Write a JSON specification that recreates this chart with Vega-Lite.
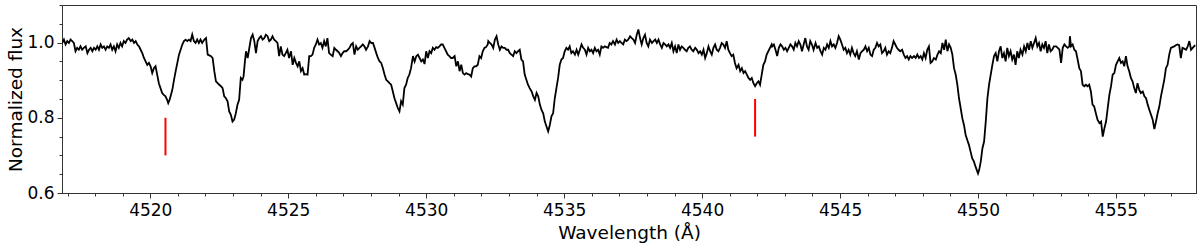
{
"$schema":"https://vega.github.io/schema/vega-lite/v6.json",
"width":1134,"height":188,
"autosize":{"type":"none"},
"padding":{"left":62,"top":5,"right":4,"bottom":54},
"background":"white",
"config":{"view":{"stroke":"#333","strokeWidth":1},"font":"DejaVu Sans"},
"resolve":{"axis":{"x":"independent","y":"independent"}},
"datasets":{
"spec":[
{"w":4516.81,"f":0.999},{"w":4516.87,"f":1.008},{"w":4516.93,"f":0.995},{"w":4516.99,"f":1.004},{"w":4517.05,"f":0.999},{"w":4517.11,"f":1.008},{"w":4517.17,"f":1.004},{"w":4517.23,"f":0.999},{"w":4517.29,"f":0.977},{"w":4517.35,"f":0.986},{"w":4517.41,"f":0.981},{"w":4517.47,"f":0.990},{"w":4517.53,"f":0.981},{"w":4517.59,"f":0.986},{"w":4517.66,"f":0.990},{"w":4517.72,"f":0.972},{"w":4517.78,"f":0.981},{"w":4517.84,"f":0.986},{"w":4517.90,"f":0.977},{"w":4517.96,"f":0.986},{"w":4518.02,"f":0.981},{"w":4518.08,"f":0.990},{"w":4518.14,"f":0.981},{"w":4518.20,"f":0.995},{"w":4518.26,"f":0.986},{"w":4518.32,"f":0.990},{"w":4518.38,"f":0.981},{"w":4518.44,"f":0.990},{"w":4518.50,"f":0.986},{"w":4518.56,"f":0.995},{"w":4518.62,"f":0.981},{"w":4518.68,"f":0.990},{"w":4518.74,"f":0.977},{"w":4518.80,"f":0.995},{"w":4518.86,"f":0.986},{"w":4518.92,"f":0.999},{"w":4518.98,"f":0.990},{"w":4519.04,"f":1.004},{"w":4519.10,"f":0.999},{"w":4519.16,"f":1.008},{"w":4519.22,"f":1.012},{"w":4519.29,"f":1.004},{"w":4519.35,"f":1.008},{"w":4519.41,"f":0.999},{"w":4519.47,"f":1.004},{"w":4519.53,"f":0.995},{"w":4519.59,"f":0.990},{"w":4519.65,"f":0.981},{"w":4519.71,"f":0.972},{"w":4519.77,"f":0.959},{"w":4519.83,"f":0.950},{"w":4519.89,"f":0.941},{"w":4519.95,"f":0.946},{"w":4520.01,"f":0.937},{"w":4520.07,"f":0.919},{"w":4520.13,"f":0.932},{"w":4520.19,"f":0.937},{"w":4520.25,"f":0.915},{"w":4520.31,"f":0.892},{"w":4520.37,"f":0.879},{"w":4520.43,"f":0.866},{"w":4520.49,"f":0.861},{"w":4520.55,"f":0.857},{"w":4520.61,"f":0.848},{"w":4520.65,"f":0.839},{"w":4520.70,"f":0.848},{"w":4520.75,"f":0.861},{"w":4520.80,"f":0.875},{"w":4520.86,"f":0.901},{"w":4520.92,"f":0.924},{"w":4520.98,"f":0.946},{"w":4521.04,"f":0.968},{"w":4521.10,"f":0.981},{"w":4521.16,"f":0.995},{"w":4521.22,"f":1.004},{"w":4521.28,"f":1.008},{"w":4521.34,"f":1.004},{"w":4521.40,"f":1.008},{"w":4521.46,"f":1.004},{"w":4521.52,"f":1.021},{"w":4521.58,"f":1.004},{"w":4521.64,"f":0.999},{"w":4521.70,"f":1.008},{"w":4521.76,"f":0.999},{"w":4521.82,"f":1.008},{"w":4521.88,"f":0.999},
{"w":4521.96,"f":1.008},{"w":4522.02,"f":1.012},{"w":4522.08,"f":0.968},{"w":4522.14,"f":0.966},{"w":4522.20,"f":0.964},{"w":4522.26,"f":0.959},{"w":4522.32,"f":0.924},{"w":4522.38,"f":0.897},{"w":4522.44,"f":0.892},{"w":4522.50,"f":0.888},{"w":4522.56,"f":0.884},{"w":4522.62,"f":0.879},{"w":4522.68,"f":0.857},{"w":4522.74,"f":0.852},{"w":4522.80,"f":0.844},{"w":4522.86,"f":0.817},{"w":4522.92,"f":0.808},{"w":4522.98,"f":0.790},{"w":4523.04,"f":0.795},{"w":4523.10,"f":0.812},{"w":4523.16,"f":0.835},{"w":4523.22,"f":0.848},{"w":4523.28,"f":0.906},{"w":4523.34,"f":0.901},{"w":4523.38,"f":0.910},{"w":4523.43,"f":0.950},{"w":4523.47,"f":0.977},{"w":4523.53,"f":0.959},{"w":4523.59,"f":0.986},{"w":4523.65,"f":1.012},{"w":4523.71,"f":1.021},{"w":4523.77,"f":1.004},{"w":4523.83,"f":0.972},{"w":4523.89,"f":1.004},{"w":4523.95,"f":1.012},{"w":4524.01,"f":1.017},{"w":4524.07,"f":1.008},{"w":4524.13,"f":1.012},{"w":4524.19,"f":1.021},{"w":4524.25,"f":1.017},{"w":4524.31,"f":1.004},{"w":4524.37,"f":1.008},{"w":4524.43,"f":1.017},{"w":4524.49,"f":1.008},{"w":4524.55,"f":1.004},{"w":4524.61,"f":0.999},{"w":4524.67,"f":0.964},{"w":4524.73,"f":0.990},{"w":4524.79,"f":0.968},{"w":4524.85,"f":0.964},{"w":4524.91,"f":0.972},{"w":4524.97,"f":0.981},{"w":4525.03,"f":0.959},{"w":4525.10,"f":0.977},{"w":4525.16,"f":0.941},{"w":4525.22,"f":0.959},{"w":4525.28,"f":0.946},{"w":4525.34,"f":0.937},{"w":4525.40,"f":0.950},{"w":4525.46,"f":0.924},{"w":4525.52,"f":0.932},{"w":4525.58,"f":0.915},{"w":4525.64,"f":0.916},{"w":4525.70,"f":0.915},{"w":4525.76,"f":0.964},{"w":4525.82,"f":0.964},{"w":4525.88,"f":0.968},{"w":4525.94,"f":0.986},{"w":4526.00,"f":0.995},{"w":4526.06,"f":1.008},{"w":4526.12,"f":0.995},{"w":4526.18,"f":0.999},{"w":4526.24,"f":0.986},{"w":4526.30,"f":1.004},{"w":4526.36,"f":0.990},{"w":4526.42,"f":1.012},{"w":4526.48,"f":0.972},{"w":4526.54,"f":0.968},{"w":4526.61,"f":0.964},{"w":4526.67,"f":0.986},{"w":4526.73,"f":0.981},{"w":4526.79,"f":0.977},{"w":4526.85,"f":0.972},{"w":4526.91,"f":0.964},{"w":4526.97,"f":0.972},{"w":4527.03,"f":0.977},
{"w":4527.10,"f":0.977},{"w":4527.16,"f":0.981},{"w":4527.22,"f":0.986},{"w":4527.28,"f":0.995},{"w":4527.34,"f":0.999},{"w":4527.40,"f":0.968},{"w":4527.46,"f":0.990},{"w":4527.52,"f":0.981},{"w":4527.58,"f":0.986},{"w":4527.64,"f":0.990},{"w":4527.70,"f":0.995},{"w":4527.76,"f":0.990},{"w":4527.82,"f":0.981},{"w":4527.89,"f":0.990},{"w":4527.95,"f":1.004},{"w":4528.01,"f":0.999},{"w":4528.07,"f":0.999},{"w":4528.13,"f":0.986},{"w":4528.19,"f":0.972},{"w":4528.25,"f":0.959},{"w":4528.31,"f":0.950},{"w":4528.37,"f":0.946},{"w":4528.43,"f":0.932},{"w":4528.49,"f":0.915},{"w":4528.55,"f":0.901},{"w":4528.61,"f":0.897},{"w":4528.67,"f":0.892},{"w":4528.73,"f":0.888},{"w":4528.79,"f":0.870},{"w":4528.85,"f":0.852},{"w":4528.91,"f":0.839},{"w":4528.97,"f":0.826},{"w":4529.03,"f":0.817},{"w":4529.09,"f":0.844},{"w":4529.15,"f":0.835},{"w":4529.21,"f":0.879},{"w":4529.27,"f":0.888},{"w":4529.33,"f":0.906},{"w":4529.39,"f":0.915},{"w":4529.45,"f":0.932},{"w":4529.52,"f":0.964},{"w":4529.58,"f":0.950},{"w":4529.64,"f":0.964},{"w":4529.70,"f":0.968},{"w":4529.76,"f":0.959},{"w":4529.82,"f":0.950},{"w":4529.88,"f":0.955},{"w":4529.94,"f":0.943},{"w":4530.00,"f":0.977},{"w":4530.06,"f":0.959},{"w":4530.12,"f":0.977},{"w":4530.18,"f":0.972},{"w":4530.24,"f":0.986},{"w":4530.30,"f":0.981},{"w":4530.36,"f":0.988},{"w":4530.42,"f":0.986},{"w":4530.48,"f":0.990},{"w":4530.54,"f":0.995},{"w":4530.60,"f":0.995},{"w":4530.66,"f":0.986},{"w":4530.72,"f":0.977},{"w":4530.78,"f":0.968},{"w":4530.84,"f":0.964},{"w":4530.90,"f":0.959},{"w":4530.96,"f":0.959},{"w":4531.03,"f":0.964},{"w":4531.09,"f":0.937},{"w":4531.15,"f":0.950},{"w":4531.21,"f":0.924},{"w":4531.27,"f":0.941},{"w":4531.33,"f":0.919},{"w":4531.39,"f":0.915},{"w":4531.45,"f":0.919},{"w":4531.51,"f":0.916},{"w":4531.57,"f":0.915},{"w":4531.63,"f":0.910},{"w":4531.69,"f":0.932},{"w":4531.75,"f":0.937},{"w":4531.81,"f":0.937},{"w":4531.87,"f":0.941},{"w":4531.93,"f":0.964},{"w":4531.99,"f":0.959},{"w":4532.05,"f":0.977},{"w":4532.11,"f":0.986},{"w":4532.17,"f":0.988},{"w":4532.23,"f":0.995},
{"w":4532.25,"f":1.004},{"w":4532.31,"f":0.999},{"w":4532.37,"f":0.995},{"w":4532.43,"f":0.986},{"w":4532.49,"f":1.008},{"w":4532.55,"f":1.017},{"w":4532.61,"f":0.995},{"w":4532.67,"f":0.981},{"w":4532.73,"f":0.990},{"w":4532.79,"f":0.986},{"w":4532.85,"f":0.986},{"w":4532.91,"f":0.981},{"w":4532.97,"f":0.981},{"w":4533.03,"f":0.972},{"w":4533.09,"f":0.968},{"w":4533.15,"f":0.964},{"w":4533.21,"f":0.977},{"w":4533.27,"f":0.972},{"w":4533.33,"f":0.977},{"w":4533.39,"f":0.981},{"w":4533.45,"f":0.955},{"w":4533.51,"f":0.950},{"w":4533.57,"f":0.915},{"w":4533.63,"f":0.901},{"w":4533.69,"f":0.888},{"w":4533.75,"f":0.879},{"w":4533.82,"f":0.870},{"w":4533.88,"f":0.857},{"w":4533.94,"f":0.848},{"w":4534.00,"f":0.866},{"w":4534.06,"f":0.857},{"w":4534.12,"f":0.835},{"w":4534.18,"f":0.821},{"w":4534.24,"f":0.812},{"w":4534.30,"f":0.790},{"w":4534.36,"f":0.777},{"w":4534.42,"f":0.764},{"w":4534.48,"f":0.781},{"w":4534.54,"f":0.804},{"w":4534.60,"f":0.812},{"w":4534.66,"f":0.852},{"w":4534.72,"f":0.879},{"w":4534.78,"f":0.906},{"w":4534.84,"f":0.941},{"w":4534.90,"f":0.955},{"w":4534.96,"f":0.959},{"w":4535.02,"f":0.977},{"w":4535.08,"f":0.986},{"w":4535.14,"f":0.981},{"w":4535.20,"f":0.990},{"w":4535.26,"f":0.972},{"w":4535.32,"f":0.977},{"w":4535.39,"f":0.968},{"w":4535.45,"f":0.981},{"w":4535.51,"f":0.968},{"w":4535.57,"f":0.981},{"w":4535.63,"f":0.995},{"w":4535.69,"f":0.986},{"w":4535.75,"f":0.981},{"w":4535.81,"f":0.968},{"w":4535.87,"f":0.986},{"w":4535.93,"f":0.977},{"w":4535.99,"f":0.981},{"w":4536.05,"f":0.972},{"w":4536.11,"f":0.986},{"w":4536.17,"f":0.977},{"w":4536.23,"f":0.981},{"w":4536.29,"f":0.968},{"w":4536.35,"f":0.990},{"w":4536.41,"f":0.986},{"w":4536.47,"f":0.990},{"w":4536.53,"f":0.988},{"w":4536.59,"f":0.986},{"w":4536.65,"f":0.999},{"w":4536.71,"f":0.995},{"w":4536.77,"f":1.004},{"w":4536.84,"f":0.995},{"w":4536.90,"f":1.008},{"w":4536.96,"f":0.999},{"w":4537.02,"f":1.004},{"w":4537.08,"f":0.999},{"w":4537.14,"f":0.995},{"w":4537.20,"f":1.008},{"w":4537.26,"f":1.004},{"w":4537.32,"f":1.008},
{"w":4537.39,"f":1.017},{"w":4537.45,"f":1.012},{"w":4537.51,"f":1.008},{"w":4537.57,"f":0.999},{"w":4537.63,"f":1.021},{"w":4537.69,"f":1.035},{"w":4537.75,"f":1.012},{"w":4537.81,"f":0.995},{"w":4537.87,"f":1.012},{"w":4537.93,"f":1.021},{"w":4537.99,"f":0.999},{"w":4538.05,"f":0.990},{"w":4538.11,"f":1.008},{"w":4538.18,"f":0.999},{"w":4538.24,"f":1.004},{"w":4538.30,"f":1.008},{"w":4538.36,"f":0.999},{"w":4538.42,"f":1.008},{"w":4538.48,"f":0.995},{"w":4538.54,"f":0.986},{"w":4538.60,"f":0.999},{"w":4538.66,"f":0.995},{"w":4538.72,"f":0.990},{"w":4538.78,"f":0.995},{"w":4538.84,"f":0.986},{"w":4538.90,"f":0.999},{"w":4538.96,"f":0.977},{"w":4539.02,"f":0.990},{"w":4539.08,"f":0.972},{"w":4539.14,"f":0.995},{"w":4539.20,"f":0.981},{"w":4539.26,"f":0.990},{"w":4539.32,"f":0.986},{"w":4539.38,"f":0.981},{"w":4539.44,"f":0.977},{"w":4539.50,"f":0.986},{"w":4539.56,"f":0.990},{"w":4539.62,"f":0.981},{"w":4539.68,"f":0.977},{"w":4539.75,"f":0.986},{"w":4539.81,"f":0.981},{"w":4539.87,"f":0.972},{"w":4539.93,"f":0.977},{"w":4539.99,"f":0.968},{"w":4540.05,"f":0.981},{"w":4540.11,"f":0.959},{"w":4540.17,"f":0.972},{"w":4540.23,"f":0.990},{"w":4540.29,"f":0.977},{"w":4540.35,"f":0.968},{"w":4540.41,"f":0.986},{"w":4540.47,"f":0.995},{"w":4540.53,"f":0.981},{"w":4540.59,"f":0.977},{"w":4540.65,"f":0.986},{"w":4540.71,"f":0.999},{"w":4540.77,"f":0.995},{"w":4540.83,"f":0.986},{"w":4540.89,"f":1.004},{"w":4540.95,"f":0.981},{"w":4541.01,"f":0.972},{"w":4541.07,"f":0.964},{"w":4541.13,"f":0.968},{"w":4541.19,"f":0.946},{"w":4541.25,"f":0.932},{"w":4541.32,"f":0.941},{"w":4541.38,"f":0.924},{"w":4541.44,"f":0.932},{"w":4541.50,"f":0.919},{"w":4541.56,"f":0.924},{"w":4541.62,"f":0.915},{"w":4541.68,"f":0.906},{"w":4541.74,"f":0.901},{"w":4541.80,"f":0.906},{"w":4541.86,"f":0.892},{"w":4541.92,"f":0.884},{"w":4541.98,"f":0.892},{"w":4542.04,"f":0.897},{"w":4542.10,"f":0.888},{"w":4542.16,"f":0.915},{"w":4542.22,"f":0.941},{"w":4542.28,"f":0.950},{"w":4542.34,"f":0.968},{"w":4542.40,"f":0.977},{"w":4542.46,"f":0.986},{"w":4542.52,"f":0.995},
{"w":4542.54,"f":0.990},{"w":4542.60,"f":0.995},{"w":4542.66,"f":0.981},{"w":4542.72,"f":0.964},{"w":4542.78,"f":0.986},{"w":4542.84,"f":0.995},{"w":4542.90,"f":0.990},{"w":4542.96,"f":0.981},{"w":4543.02,"f":0.986},{"w":4543.08,"f":0.977},{"w":4543.14,"f":0.986},{"w":4543.20,"f":0.995},{"w":4543.26,"f":0.990},{"w":4543.32,"f":0.981},{"w":4543.38,"f":0.999},{"w":4543.44,"f":0.990},{"w":4543.50,"f":1.004},{"w":4543.56,"f":0.995},{"w":4543.62,"f":0.977},{"w":4543.68,"f":0.995},{"w":4543.74,"f":1.012},{"w":4543.80,"f":0.990},{"w":4543.86,"f":0.981},{"w":4543.92,"f":1.004},{"w":4543.98,"f":0.995},{"w":4544.04,"f":0.981},{"w":4544.11,"f":0.999},{"w":4544.17,"f":0.986},{"w":4544.23,"f":0.990},{"w":4544.29,"f":0.977},{"w":4544.35,"f":0.968},{"w":4544.41,"f":0.986},{"w":4544.47,"f":0.981},{"w":4544.53,"f":0.995},{"w":4544.59,"f":0.986},{"w":4544.65,"f":1.004},{"w":4544.71,"f":0.990},{"w":4544.77,"f":0.995},{"w":4544.83,"f":0.986},{"w":4544.89,"f":0.999},{"w":4544.95,"f":1.017},{"w":4545.01,"f":1.008},{"w":4545.07,"f":0.995},{"w":4545.13,"f":0.981},{"w":4545.19,"f":0.986},{"w":4545.25,"f":0.972},{"w":4545.31,"f":0.981},{"w":4545.37,"f":0.968},{"w":4545.43,"f":0.986},{"w":4545.49,"f":0.972},{"w":4545.55,"f":0.964},{"w":4545.61,"f":0.977},{"w":4545.68,"f":0.955},{"w":4545.74,"f":0.972},{"w":4545.80,"f":0.977},{"w":4545.86,"f":0.981},{"w":4545.92,"f":0.990},{"w":4545.98,"f":0.977},{"w":4546.04,"f":0.986},{"w":4546.10,"f":0.968},{"w":4546.16,"f":0.964},{"w":4546.22,"f":0.981},{"w":4546.28,"f":0.986},{"w":4546.34,"f":0.999},{"w":4546.40,"f":0.990},{"w":4546.46,"f":0.995},{"w":4546.52,"f":0.972},{"w":4546.58,"f":0.977},{"w":4546.64,"f":0.986},{"w":4546.70,"f":0.968},{"w":4546.76,"f":0.977},{"w":4546.82,"f":0.972},{"w":4546.88,"f":0.986},{"w":4546.94,"f":1.004},{"w":4547.00,"f":0.995},{"w":4547.06,"f":0.986},{"w":4547.12,"f":0.981},{"w":4547.18,"f":0.977},{"w":4547.25,"f":0.981},{"w":4547.31,"f":0.968},{"w":4547.37,"f":0.959},{"w":4547.43,"f":0.964},{"w":4547.49,"f":0.955},{"w":4547.55,"f":0.964},{"w":4547.61,"f":0.959},
{"w":4547.68,"f":0.964},{"w":4547.74,"f":0.959},{"w":4547.80,"f":0.968},{"w":4547.86,"f":0.959},{"w":4547.92,"f":0.964},{"w":4547.98,"f":0.955},{"w":4548.04,"f":0.972},{"w":4548.10,"f":0.959},{"w":4548.16,"f":0.981},{"w":4548.22,"f":0.990},{"w":4548.28,"f":0.946},{"w":4548.34,"f":0.950},{"w":4548.40,"f":0.959},{"w":4548.47,"f":0.955},{"w":4548.53,"f":0.968},{"w":4548.59,"f":0.977},{"w":4548.65,"f":0.972},{"w":4548.71,"f":0.999},{"w":4548.77,"f":0.981},{"w":4548.83,"f":1.008},{"w":4548.89,"f":0.977},{"w":4548.95,"f":0.995},{"w":4549.01,"f":0.986},{"w":4549.07,"f":0.968},{"w":4549.13,"f":0.932},{"w":4549.19,"f":0.915},{"w":4549.25,"f":0.888},{"w":4549.31,"f":0.852},{"w":4549.37,"f":0.826},{"w":4549.43,"f":0.799},{"w":4549.49,"f":0.781},{"w":4549.55,"f":0.755},{"w":4549.61,"f":0.741},{"w":4549.67,"f":0.728},{"w":4549.73,"f":0.710},{"w":4549.79,"f":0.692},{"w":4549.85,"f":0.684},{"w":4549.91,"f":0.670},{"w":4550.00,"f":0.652},{"w":4550.04,"f":0.661},{"w":4550.10,"f":0.684},{"w":4550.16,"f":0.719},{"w":4550.22,"f":0.737},{"w":4550.28,"f":0.790},{"w":4550.34,"f":0.852},{"w":4550.40,"f":0.888},{"w":4550.46,"f":0.915},{"w":4550.52,"f":0.941},{"w":4550.58,"f":0.964},{"w":4550.64,"f":0.972},{"w":4550.70,"f":0.950},{"w":4550.76,"f":0.977},{"w":4550.82,"f":0.990},{"w":4550.88,"f":0.959},{"w":4550.94,"f":0.972},{"w":4551.00,"f":0.950},{"w":4551.06,"f":0.986},{"w":4551.12,"f":0.964},{"w":4551.18,"f":0.977},{"w":4551.24,"f":0.955},{"w":4551.30,"f":0.968},{"w":4551.36,"f":0.941},{"w":4551.42,"f":0.977},{"w":4551.48,"f":0.959},{"w":4551.54,"f":0.981},{"w":4551.61,"f":0.968},{"w":4551.67,"f":0.990},{"w":4551.73,"f":0.977},{"w":4551.79,"f":0.999},{"w":4551.85,"f":0.981},{"w":4551.91,"f":1.004},{"w":4551.97,"f":0.986},{"w":4552.03,"f":0.999},{"w":4552.09,"f":1.012},{"w":4552.15,"f":0.990},{"w":4552.21,"f":0.999},{"w":4552.27,"f":0.977},{"w":4552.33,"f":0.995},{"w":4552.39,"f":0.986},{"w":4552.45,"f":1.004},{"w":4552.51,"f":0.972},{"w":4552.57,"f":0.995},{"w":4552.63,"f":0.977},{"w":4552.69,"f":0.981},{"w":4552.75,"f":0.990},
{"w":4552.83,"f":0.990},{"w":4552.89,"f":0.986},{"w":4552.95,"f":0.981},{"w":4553.01,"f":0.946},{"w":4553.07,"f":0.986},{"w":4553.13,"f":0.995},{"w":4553.19,"f":0.990},{"w":4553.25,"f":0.986},{"w":4553.31,"f":0.990},{"w":4553.33,"f":1.017},{"w":4553.37,"f":0.990},{"w":4553.43,"f":0.995},{"w":4553.49,"f":0.981},{"w":4553.55,"f":0.977},{"w":4553.61,"f":0.955},{"w":4553.67,"f":0.932},{"w":4553.73,"f":0.924},{"w":4553.79,"f":0.888},{"w":4553.85,"f":0.884},{"w":4553.91,"f":0.888},{"w":4553.97,"f":0.884},{"w":4554.03,"f":0.888},{"w":4554.09,"f":0.870},{"w":4554.15,"f":0.835},{"w":4554.21,"f":0.830},{"w":4554.27,"f":0.812},{"w":4554.33,"f":0.795},{"w":4554.40,"f":0.786},{"w":4554.46,"f":0.790},{"w":4554.52,"f":0.750},{"w":4554.58,"f":0.772},{"w":4554.64,"f":0.790},{"w":4554.70,"f":0.826},{"w":4554.76,"f":0.861},{"w":4554.82,"f":0.884},{"w":4554.88,"f":0.915},{"w":4554.94,"f":0.919},{"w":4555.00,"f":0.941},{"w":4555.06,"f":0.950},{"w":4555.12,"f":0.959},{"w":4555.18,"f":0.946},{"w":4555.24,"f":0.950},{"w":4555.30,"f":0.937},{"w":4555.36,"f":0.964},{"w":4555.42,"f":0.937},{"w":4555.48,"f":0.924},{"w":4555.54,"f":0.906},{"w":4555.60,"f":0.897},{"w":4555.66,"f":0.879},{"w":4555.72,"f":0.866},{"w":4555.78,"f":0.892},{"w":4555.84,"f":0.875},{"w":4555.90,"f":0.866},{"w":4555.97,"f":0.870},{"w":4556.03,"f":0.857},{"w":4556.09,"f":0.852},{"w":4556.15,"f":0.835},{"w":4556.21,"f":0.821},{"w":4556.27,"f":0.808},{"w":4556.33,"f":0.795},{"w":4556.39,"f":0.770},{"w":4556.45,"f":0.790},{"w":4556.51,"f":0.812},{"w":4556.57,"f":0.830},{"w":4556.63,"f":0.857},{"w":4556.69,"f":0.879},{"w":4556.75,"f":0.901},{"w":4556.81,"f":0.932},{"w":4556.87,"f":0.941},{"w":4556.93,"f":0.968},{"w":4556.99,"f":0.986},{"w":4557.05,"f":0.988},{"w":4557.11,"f":0.990},{"w":4557.17,"f":0.993},{"w":4557.23,"f":0.995},{"w":4557.29,"f":0.993},{"w":4557.35,"f":0.959},{"w":4557.41,"f":0.986},{"w":4557.47,"f":0.984},{"w":4557.54,"f":0.981},{"w":4557.60,"f":0.990},{"w":4557.66,"f":1.004},{"w":4557.72,"f":0.981},{"w":4557.78,"f":0.986},{"w":4557.87,"f":0.993}
],
"marks":[{"w":4520.55,"lo":0.70,"hi":0.80},{"w":4541.92,"lo":0.75,"hi":0.85}]
},
"layer":[
{"data":{"name":"spec"},
 "mark":{"type":"line","color":"black","strokeWidth":1.8,"clip":true,"interpolate":"linear"},
 "encoding":{
  "x":{"field":"w","type":"quantitative","scale":{"domain":[4516.8,4557.9],"nice":false,"zero":false},
   "axis":{"orient":"bottom","title":"Wavelength (Å)","titleFontSize":18.5,"titleFontWeight":"normal","titleColor":"black","titleFont":"DejaVu Sans",
    "titleY":39,"titleBaseline":"middle",
    "values":[4520,4525,4530,4535,4540,4545,4550,4555],"format":"d",
    "labelFontSize":17,"labelColor":"black","labelFont":"DejaVu Sans","labelPadding":4,"labelFlush":false,"labelOverlap":false,
    "tickSize":5,"tickColor":"#333","domainColor":"#333","grid":false}},
  "y":{"field":"f","type":"quantitative","scale":{"domain":[0.6,1.1],"nice":false,"zero":false},
   "axis":{"orient":"left","title":"Normalized flux","titleFontSize":18.5,"titleFontWeight":"normal","titleColor":"black","titleFont":"DejaVu Sans",
    "titleX":-47,"titleBaseline":"middle",
    "values":[0.6,0.65,0.7,0.75,0.8,0.85,0.9,0.95,1.0,1.05,1.1],
    "labelExpr":"round(datum.value*100) % 20 === 0 ? format(datum.value,'.1f') : ''",
    "labelFontSize":17,"labelColor":"black","labelFont":"DejaVu Sans","labelPadding":3,"labelFlush":false,"labelOverlap":false,
    "tickSize":{"condition":{"test":"round(datum.value*100) % 20 === 0","value":5},"value":3},
    "tickColor":"#333","domainColor":"#333","grid":false}}
 }},
{"data":{"name":"marks"},
 "mark":{"type":"rule","color":"red","strokeWidth":2},
 "encoding":{
  "x":{"field":"w","type":"quantitative",
   "axis":{"orient":"bottom","title":null,"labels":false,"domain":false,"grid":false,"tickSize":3,"tickColor":"#333",
    "values":[4517,4518,4519,4521,4522,4523,4524,4526,4527,4528,4529,4531,4532,4533,4534,4536,4537,4538,4539,4541,4542,4543,4544,4546,4547,4548,4549,4551,4552,4553,4554,4556,4557]}},
  "y":{"field":"lo","type":"quantitative","axis":null},
  "y2":{"field":"hi"}}}
]
}
